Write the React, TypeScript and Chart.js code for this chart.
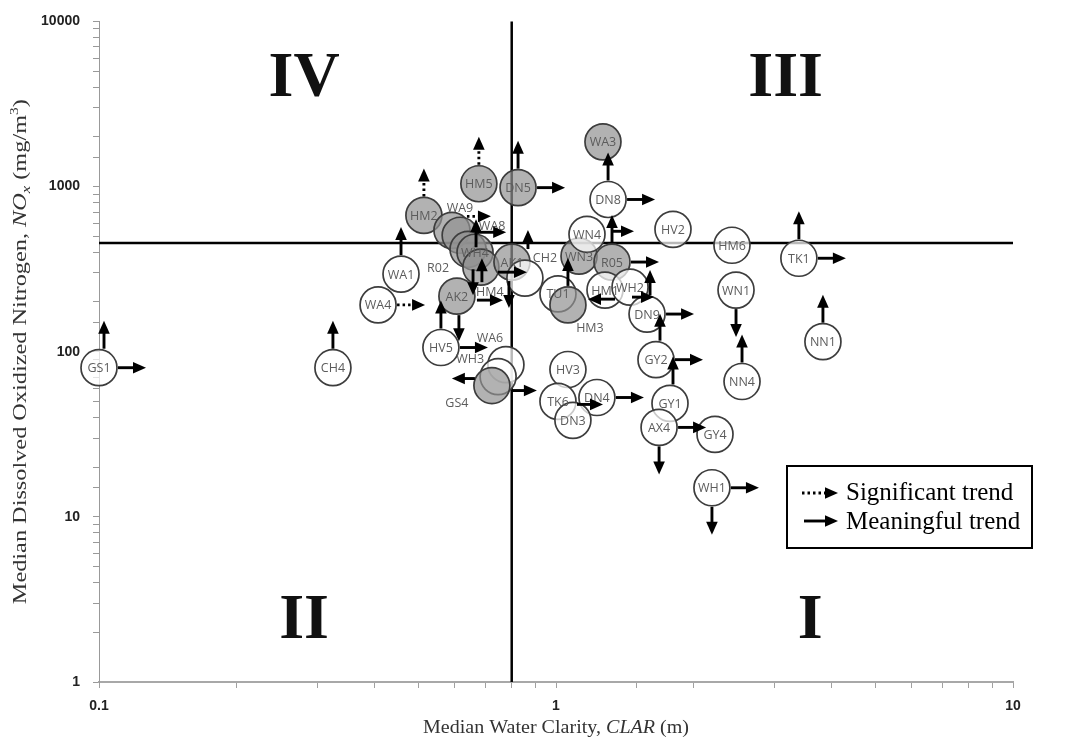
import React, { useEffect, useRef } from 'react';
import { Chart, registerables } from 'chart.js';

Chart.register(...registerables);

// ---------------- DATA ----------------
const sites = ['GS1','CH4','WA1','WA4','HV5','HM2','HM5','DN5','WA9','WA8','R02','WH4','HM4','AK2','AK1','CH2','TU1','HM3','WN3','WN4','R05','HM1','WH2','DN9','WA3','DN8','HV2','HM6','TK1','WN1','NN1','NN4','GY2','GY1','AX4','GY4','WH1','HV3','TK6','DN4','DN3','WA6','WH3','GS4'];
// Median water clarity (m)
const clarity = [0.100,0.325,0.458,0.408,0.560,0.514,0.678,0.826,0.592,0.617,0.642,0.665,0.685,0.607,0.801,0.855,1.01,1.062,1.123,1.169,1.326,1.280,1.452,1.582,1.267,1.300,1.803,2.427,3.40,2.477,3.838,2.553,1.655,1.776,1.681,2.228,2.194,1.062,1.01,1.229,1.089,0.777,0.747,0.724];
// Median dissolved oxidized nitrogen (mg/m3)
const nox = [80,80,295,192,106,669,1040,985,543,507,417,400,325,217,349,279,224,192,379,514,349,236,246,169,1866,835,551,441,368,236,115,66,89.5,48.6,34.8,31.6,15.0,78,50,52.8,38.4,83.5,70.7,62.4];
// Sites drawn shaded (grey)
const shadedSites = ['HM2','HM5','DN5','WA9','WA8','R02','WH4','HM4','AK2','AK1','HM3','WN3','R05','WA3','GS4'];

// Trend arrows
const trendSite = ['GS1','GS1','CH4','WA1','WA4','HM2','HM5','DN5','DN5','WA9','WA8','WH4','HM4','R02','AK2','HM4','AK1','AK1','AK2','HV5','HV5','GS4','GS4','TK6','DN4','GY2','GY2','GY1','AX4','AX4','WH1','WH1','NN1','NN4','WN1','TK1','TK1','DN8','DN8','R05','R05','WN4','HM3','WH2','HM1','DN9','DN9'];
const trendDir = ['up','right','up','up','right','up','up','up','right','right','right','up','up','down','right','right','up','down','down','up','right','left','right','right','right','up','right','up','right','down','right','down','up','up','down','up','right','up','right','up','right','right','up','left','right','up','right'];
const trendKind = ['mean','mean','mean','mean','sig','sig','sig','mean','mean','sig','mean','mean','mean','mean','mean','mean','mean','mean','mean','mean','mean','mean','mean','mean','mean','mean','mean','mean','mean','mean','mean','mean','mean','mean','mean','mean','mean','mean','mean','mean','mean','mean','mean','mean','mean','mean','mean'];

// Median reference lines
const medianClarity = 0.8;
const medianNox = 455;

// Quadrant labels
const quadrantNames = ['IV', 'III', 'II', 'I'];

// ---------------- LAYOUT / STYLE ----------------
const quadrantAnchor: Record<string, [number, number]> = {
  IV: [0.281, 4730], III: [3.18, 4730], II: [0.281, 2.46], I: [3.6, 2.46],
};
const labelOffset: Record<string, [number, number]> = {
  WA9: [8, -23], WA8: [32, -10], R02: [-30, 18], HM4: [9, 24], CH2: [20, -21],
  HM3: [22, 23], WA6: [-16, -27], WH3: [-28, -18], GS4: [-35, 17],
};
// [dx, dy, length] pixel tweaks of arrow start
const arrowTweak: Record<string, [number, number, number]> = {
  'GS1:up': [5, 0, 28], 'WA9:right': [-4, -14, 24], 'WA8:right': [-2, -3, 29],
  'WH4:up': [1, 14, 28], 'HM4:up': [1, 34, 24], 'R02:down': [5, 1, 26],
  'AK2:right': [1, 4, 26], 'HM4:right': [-2, 5, 29], 'AK1:up': [16, 6, 19],
  'AK1:down': [-3, 0, 27], 'AK2:down': [2, 0, 26], 'GS4:left': [2, -7, 23],
  'GS4:right': [1, 5, 25], 'TK6:right': [0, 3, 26], 'GY2:up': [4, 0, 27],
  'GY1:up': [3, 0, 28], 'WN4:right': [7, -3, 21], 'WH2:left': [4, 12, 27],
  'HM1:right': [8, 7, 22], 'DN9:up': [3, 0, 25],
};
const R = 18;
const SERIF = '"Liberation Serif", "Times New Roman", serif';
const SANS = '"Liberation Sans", Arial, sans-serif';

function drawArrow(ctx: CanvasRenderingContext2D, x0: number, y0: number, ux: number, uy: number, len: number, dotted: boolean) {
  const head = 13, hw = 5.8;
  const x1 = x0 + ux * len, y1 = y0 + uy * len;
  const sx = x1 - ux * head, sy = y1 - uy * head;
  ctx.save();
  ctx.strokeStyle = '#000';
  ctx.fillStyle = '#000';
  ctx.lineWidth = 2.9;
  ctx.lineCap = 'butt';
  if (dotted) ctx.setLineDash([2.5, 3]);
  ctx.beginPath();
  ctx.moveTo(x0, y0);
  ctx.lineTo(sx + ux * 1, sy + uy * 1);
  ctx.stroke();
  ctx.setLineDash([]);
  ctx.beginPath();
  ctx.moveTo(x1, y1);
  ctx.lineTo(sx - uy * hw, sy + ux * hw);
  ctx.lineTo(sx + uy * hw, sy - ux * hw);
  ctx.closePath();
  ctx.fill();
  ctx.restore();
}

type Seg = { t: string; font: string; dy?: number };
function drawRich(ctx: CanvasRenderingContext2D, segs: Seg[], cx: number, cy: number, rot: number, target: number) {
  ctx.save();
  ctx.translate(cx, cy);
  ctx.rotate(rot);
  let w = 0;
  const ws: number[] = [];
  for (const s of segs) { ctx.font = s.font; const m = ctx.measureText(s.t).width; ws.push(m); w += m; }
  const k = target / w;
  ctx.scale(k, 1);
  ctx.fillStyle = '#333';
  ctx.textAlign = 'left';
  ctx.textBaseline = 'alphabetic';
  let x = -w / 2;
  segs.forEach((s, i) => { ctx.font = s.font; ctx.fillText(s.t, x, 6 + (s.dy || 0)); x += ws[i]; });
  ctx.restore();
}

const dirVec: Record<string, [number, number]> = { up: [0, -1], down: [0, 1], left: [-1, 0], right: [1, 0] };

const overlayPlugin = {
  id: 'overlay',
  beforeDatasetsDraw(chart: any) {
    const { ctx, chartArea, scales } = chart;
    const vx = scales.x.getPixelForValue(medianClarity);
    const hy = scales.y.getPixelForValue(medianNox);
    ctx.save();
    ctx.strokeStyle = '#000';
    ctx.lineWidth = 2.5;
    ctx.beginPath(); ctx.moveTo(vx, chartArea.top); ctx.lineTo(vx, chartArea.bottom); ctx.stroke();
    ctx.beginPath(); ctx.moveTo(chartArea.left, hy); ctx.lineTo(chartArea.right, hy); ctx.stroke();
    ctx.restore();
  },
  afterDatasetsDraw(chart: any) {
    const { ctx, scales, chartArea } = chart;
    const px = (i: number) => scales.x.getPixelForValue(clarity[i]);
    const py = (i: number) => scales.y.getPixelForValue(nox[i]);
    // site labels
    ctx.save();
    ctx.font = `12.5px "Open Sans", ${SANS}`;
    ctx.fillStyle = '#5c5c5c';
    ctx.textAlign = 'center';
    ctx.textBaseline = 'middle';
    sites.forEach((s, i) => {
      const o = labelOffset[s] || [0, 0];
      ctx.fillText(s, px(i) + o[0], py(i) + o[1] + 1);
    });
    ctx.restore();
    // arrows
    trendSite.forEach((s, j) => {
      const i = sites.indexOf(s);
      const d = trendDir[j];
      const [ux, uy] = dirVec[d];
      const tw = arrowTweak[`${s}:${d}`] || [0, 0, 28];
      const x0 = px(i) + ux * (R + 1) + tw[0];
      const y0 = py(i) + uy * (R + 1) + tw[1];
      drawArrow(ctx, x0, y0, ux, uy, tw[2], trendKind[j] === 'sig');
    });
    // quadrant labels
    ctx.save();
    ctx.font = `bold 64px ${SERIF}`;
    ctx.fillStyle = '#111';
    ctx.textAlign = 'center';
    ctx.textBaseline = 'alphabetic';
    quadrantNames.forEach((q) => {
      const [qx, qy] = quadrantAnchor[q];
      ctx.fillText(q, scales.x.getPixelForValue(qx), scales.y.getPixelForValue(qy) + 21);
    });
    ctx.restore();
    // legend
    const lx = chartArea.right - 226, ly = chartArea.bottom - 216;
    ctx.save();
    ctx.fillStyle = '#fff';
    ctx.fillRect(lx, ly, 245, 82);
    ctx.strokeStyle = '#000';
    ctx.lineWidth = 2;
    ctx.strokeRect(lx, ly, 245, 82);
    drawArrow(ctx, lx + 15, ly + 27, 1, 0, 36, true);
    drawArrow(ctx, lx + 17, ly + 55, 1, 0, 34, false);
    ctx.font = `25px ${SERIF}`;
    ctx.fillStyle = '#000';
    ctx.textAlign = 'left';
    ctx.textBaseline = 'middle';
    ctx.fillText('Significant trend', lx + 59, ly + 27);
    ctx.fillText('Meaningful trend', lx + 59, ly + 56);
    ctx.restore();
  },
  afterDraw(chart: any) {
    const { ctx, chartArea } = chart;
    const f = (style: string, size: number) => `${style} ${size}px ${SERIF}`;
    drawRich(ctx, [
      { t: 'Median Dissolved Oxidized Nitrogen, ', font: f('', 19) },
      { t: 'NO', font: f('italic', 19) },
      { t: 'x', font: f('italic', 13), dy: 4 },
      { t: ' (mg/m', font: f('', 19) },
      { t: '3', font: f('', 12), dy: -8 },
      { t: ')', font: f('', 19) },
    ], 20, (chartArea.top + chartArea.bottom) / 2, -Math.PI / 2, 505);
    drawRich(ctx, [
      { t: 'Median Water Clarity, ', font: f('', 19) },
      { t: 'CLAR', font: f('italic', 19) },
      { t: ' (m)', font: f('', 19) },
    ], (chartArea.left + chartArea.right) / 2, 727, 0, 266);
  },
};

const decadeLabel = (v: any) => {
  const n = Number(v);
  const l = Math.log10(n);
  return Math.abs(l - Math.round(l)) < 1e-6 ? String(Number(n.toPrecision(6))) : '';
};

export default function App() {
  const ref = useRef<HTMLCanvasElement | null>(null);
  useEffect(() => {
    if (!ref.current) return;
    const shaded = sites.map((s) => shadedSites.includes(s));
    const chart = new Chart(ref.current, {
      type: 'scatter',
      data: {
        datasets: [{
          data: sites.map((_, i) => ({ x: clarity[i], y: nox[i] })),
          pointRadius: R,
          pointHoverRadius: R,
          pointBackgroundColor: shaded.map((g) => (g ? 'rgba(145,145,145,0.7)' : 'rgba(255,255,255,0.72)')),
          pointBorderColor: '#3d3d3d',
          pointBorderWidth: 1.7,
          clip: false as any,
        }],
      },
      options: {
        animation: false,
        responsive: false,
        events: [],
        layout: { padding: { left: 0, right: 60, top: 18, bottom: 0 } },
        plugins: { legend: { display: false }, tooltip: { enabled: false } },
        scales: {
          x: {
            type: 'logarithmic', min: 0.1, max: 10,
            border: { color: '#a8a8a8', width: 2 },
            grid: { drawOnChartArea: false, drawTicks: true, tickLength: 6, color: '#a0a0a0', lineWidth: 1 },
            ticks: { autoSkip: false, maxRotation: 0, padding: 10, color: '#222', font: { family: SANS, size: 14, weight: 'bold' }, callback: decadeLabel },
            afterFit: (s: any) => { s.height = 67; },
          },
          y: {
            type: 'logarithmic', min: 1, max: 10000,
            border: { color: '#999', width: 1 },
            grid: { drawOnChartArea: false, drawTicks: true, tickLength: 6, color: '#999', lineWidth: 1 },
            ticks: { autoSkip: false, padding: 13, color: '#222', font: { family: SANS, size: 14, weight: 'bold' }, callback: decadeLabel },
            afterFit: (s: any) => { s.width = 99; },
          },
        },
      } as any,
      plugins: [overlayPlugin],
    });
    return () => chart.destroy();
  }, []);
  return (
    <div style={{ position: 'absolute', left: 0, top: 0, width: 1073, height: 749, background: '#fff' }}>
      <canvas ref={ref} width={1073} height={749} style={{ display: 'block' }} />
    </div>
  );
}
